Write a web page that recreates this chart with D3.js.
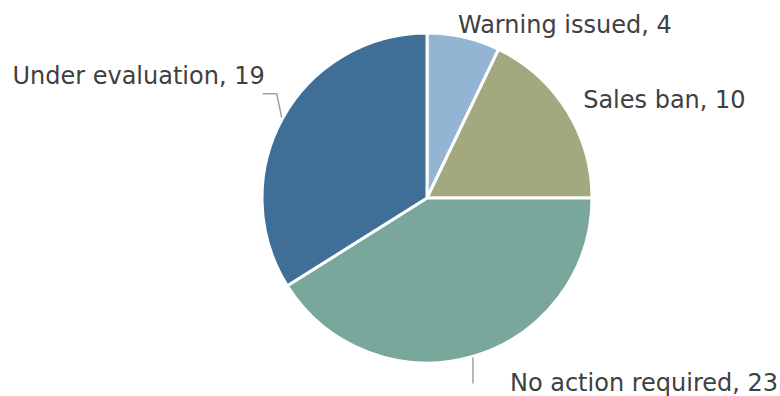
<!DOCTYPE html>
<html><head><meta charset="utf-8">
<script src="https://cdn.jsdelivr.net/npm/d3@7/dist/d3.min.js"></script>
<style>html,body{margin:0;padding:0;background:#fff;}svg{display:block;}</style>
</head><body>
<svg id="chart" width="780" height="396"></svg>
<script>
const categories = ["Warning issued", "Sales ban", "No action required", "Under evaluation"];
const values = [4, 10, 23, 19];
const colors = ["#94b4d3", "#a3a97f", "#7aa79c", "#3f6f96"];

const W = 780, H = 396, cx = 427, cy = 198, R = 165;
const svg = d3.select("#chart");
const g = svg.append("g").attr("transform", `translate(${cx},${cy})`);

const data = categories.map((c, i) => ({ name: c, value: values[i], color: colors[i] }));
const pie = d3.pie().value(d => d.value).sort(null);
const arcs = pie(data);
const arc = d3.arc().innerRadius(0).outerRadius(R);

g.selectAll("path.slice").data(arcs).enter().append("path")
  .attr("class", "slice")
  .attr("d", arc)
  .attr("fill", d => d.data.color)
  .attr("stroke", "#fff")
  .attr("stroke-width", 3)
  .attr("stroke-linejoin", "round");

// label layout (relative to the mid-angle point on the rim)
const layout = [
  { leader: null, dx: -8, dy: 6, anchor: "start" },
  { leader: null, dx: 8, dy: 3, anchor: "start" },
  { leader: [[0, 0], [0, 26]], dx: 37, dy: 33, anchor: "start" },
  { leader: [[0, 0], [-5, -24], [-19, -24]], dx: -17, dy: -34, anchor: "end" }
];
const rimPoint = a => [Math.sin(a) * (R + 1), -Math.cos(a) * (R + 1)];
const labelR = R + 10;

arcs.forEach((d, i) => {
  const mid = (d.startAngle + d.endAngle) / 2;
  const L = layout[i];
  let base;
  if (L.leader) {
    base = rimPoint(mid);
    const pts = L.leader.map(p => [base[0] + p[0], base[1] + p[1]]);
    g.append("path")
      .attr("d", d3.line()(pts))
      .attr("fill", "none")
      .attr("stroke", "#a0a0a0")
      .attr("stroke-width", 1.5);
  } else {
    base = [Math.sin(mid) * labelR, -Math.cos(mid) * labelR];
  }
  g.append("text")
    .attr("x", base[0] + L.dx)
    .attr("y", base[1] + L.dy)
    .attr("text-anchor", L.anchor)
    .attr("font-family", "DejaVu Sans, Verdana, sans-serif")
    .attr("font-size", 24)
    .attr("fill", "#404040")
    .text(`${d.data.name}, ${d.data.value}`);
});
</script>
</body></html>
